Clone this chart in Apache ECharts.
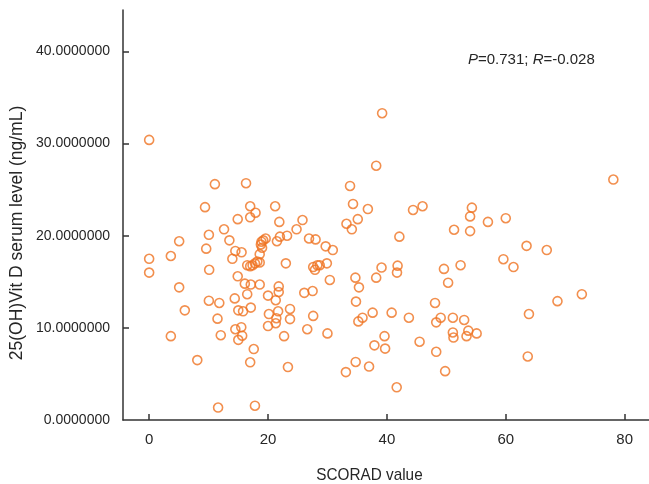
<!DOCTYPE html>
<html>
<head>
<meta charset="utf-8">
<script src="https://cdn.jsdelivr.net/npm/echarts@6/dist/echarts.min.js"></script>
<style>
html,body{margin:0;padding:0;background:#fff;}
#chart{width:649px;height:484px;}
</style>
</head>
<body>
<div id="chart"></div>
<script>
// SCORAD value (x) and 25(OH)Vit D serum level (y)
const scoradValues = [
  0, 0, 0, 3.65, 3.65, 5.05, 5.05, 6.0, 8.1, 9.4,
  9.6, 10.05, 10.1, 10.05, 11.06, 11.5, 11.8, 12.05, 11.6, 12.6,
  13.5, 14.0, 14.5, 15.55, 14.9, 14.9, 14.4, 15.0, 15.8, 14.5,
  15.5, 15.65, 15.0, 16.3, 16.1, 16.5, 17.0, 17.0, 17.9, 17.1,
  17.1, 17.6, 17.0, 17.8, 18.6, 19.6, 19.2, 18.9, 18.8, 19.0,
  18.6, 16.5, 17.0, 17.4, 17.8, 18.2, 18.6, 20.0, 20.15, 20.0,
  21.2, 21.9, 22.0, 21.5, 21.8, 21.8, 21.3, 21.7, 21.4, 21.3,
  23.2, 23.0, 23.7, 23.7, 22.7, 23.35, 24.8, 25.8, 26.1, 26.6,
  26.9, 28.0, 27.6, 27.9, 28.3, 28.7, 29.9, 27.5, 27.6, 29.7,
  30.9, 30.4, 30.0, 33.8, 34.3, 36.8, 33.2, 35.1, 34.1, 38.2,
  39.2, 34.7, 38.2, 35.3, 34.8, 35.2, 35.9, 37.6, 39.1, 40.8,
  39.6, 37.9, 39.7, 34.75, 37.0, 33.1, 41.65, 42.1, 41.8, 41.7,
  44.4, 46.0, 43.7, 45.5, 48.1, 48.3, 49.05, 48.3, 49.8, 49.6,
  50.3, 51.3, 52.4, 51.1, 51.1, 51.2, 53.0, 53.4, 53.7, 55.1,
  54.3, 54.0, 54.0, 57.0, 60.0, 59.6, 61.3, 63.5, 66.9, 63.9,
  63.7, 68.7, 72.8, 78.1
];
const vitDValues = [
  30.4, 17.5, 16.0, 17.8, 9.1, 19.4, 14.4, 11.9, 6.5, 23.1,
  18.6, 20.1, 16.3, 12.95, 25.6, 11.0, 12.7, 9.2, 1.35, 20.7,
  19.5, 17.5, 18.35, 18.2, 21.8, 15.6, 13.2, 11.9, 11.8, 9.85,
  10.07, 9.15, 8.7, 25.7, 14.8, 13.65, 23.2, 22.0, 22.5, 14.7,
  12.2, 7.7, 6.26, 1.55, 14.7, 19.7, 19.5, 19.35, 19.05, 18.7,
  18.0, 16.8, 16.7, 16.8, 17.0, 17.2, 17.1, 13.5, 11.5, 10.2,
  23.2, 21.5, 19.9, 19.4, 14.5, 13.9, 13.0, 11.8, 11.05, 10.5,
  20.0, 17.0, 12.05, 10.95, 9.1, 5.75, 20.7, 21.7, 13.8, 9.85,
  19.7, 19.6, 16.6, 16.3, 16.8, 16.8, 17.0, 14.0, 11.3, 18.85,
  18.45, 15.2, 9.4, 25.4, 23.45, 22.9, 21.3, 21.8, 20.7, 27.6,
  33.3, 15.45, 15.45, 14.4, 12.85, 10.7, 11.1, 11.65, 16.55, 11.65,
  9.1, 8.1, 7.75, 6.3, 5.8, 5.2, 3.55, 19.9, 16.75, 16.0,
  22.8, 23.2, 11.1, 8.5, 12.7, 10.6, 11.1, 7.4, 5.3, 16.4,
  14.9, 20.65, 16.8, 11.1, 9.5, 8.95, 10.86, 9.1, 9.7, 9.4,
  23.05, 22.1, 20.5, 21.5, 21.9, 17.45, 16.6, 18.9, 18.45, 11.5,
  6.9, 12.9, 13.65, 26.1
];
const xTicks = [0, 20, 40, 60, 80];
const yTicks = [0, 10, 20, 30, 40];
const yTickMarks = [10, 20, 30, 40];
const xTitle = 'SCORAD value';
const yTitle = '25(OH)Vit D serum level (ng/mL)';

const points = scoradValues.map((x, i) => [x, vitDValues[i]]);

const chart = echarts.init(document.getElementById('chart'), null, {renderer: 'canvas'});
const axisColor = '#333333';
const textColor = '#262626';
const labelFont = '"Liberation Sans", Arial, sans-serif';
chart.setOption({
  animation: false,
  backgroundColor: '#ffffff',
  grid: {left: 123, right: 0, top: 10, bottom: 64, containLabel: false, outerBoundsMode: 'none'},
  xAxis: {
    type: 'value',
    min: -4.4,
    max: 84.1,
    axisLine: {show: true, onZero: false, lineStyle: {color: axisColor, width: 1.5}},
    axisTick: {show: true, inside: true, length: 6, customValues: xTicks, lineStyle: {color: axisColor, width: 1.5}},
    axisLabel: {customValues: xTicks, margin: 12, color: textColor, fontSize: 15, fontFamily: labelFont},
    splitLine: {show: false}
  },
  yAxis: {
    type: 'value',
    min: 0,
    max: 44.5,
    axisLine: {show: true, onZero: false, lineStyle: {color: axisColor, width: 1.5}},
    axisTick: {show: true, inside: true, length: 6, customValues: yTickMarks, lineStyle: {color: axisColor, width: 1.5}},
    axisLabel: {customValues: yTicks, margin: 13, color: textColor, fontSize: 14, fontFamily: labelFont,
      formatter: v => Number(v).toFixed(7)},
    splitLine: {show: false}
  },
  series: [{
    type: 'scatter',
    data: points,
    symbol: 'circle',
    symbolSize: 9,
    itemStyle: {color: 'rgba(255,255,255,0)', borderColor: '#EF7322', borderWidth: 1.6}
  }],
  graphic: [
    {type: 'text', x: 369.5, y: 475, scaleX: 0.9, style: {text: xTitle, fill: textColor, font: '17px ' + labelFont, textAlign: 'center', textVerticalAlign: 'middle'}},
    {type: 'text', x: 17.5, y: 233, rotation: Math.PI / 2, style: {text: yTitle, fill: textColor, font: '17.5px ' + labelFont, textAlign: 'center', textVerticalAlign: 'middle'}},
    {type: 'text', x: 468, y: 60, style: {
      text: '{i|P}{n|=0.731; }{i|R}{n|=-0.028}',
      textVerticalAlign: 'middle',
      rich: {
        i: {fontStyle: 'italic', fontSize: 15, fontFamily: labelFont, fill: textColor},
        n: {fontSize: 15, fontFamily: labelFont, fill: textColor}
      }
    }}
  ]
});
</script>
</body>
</html>
